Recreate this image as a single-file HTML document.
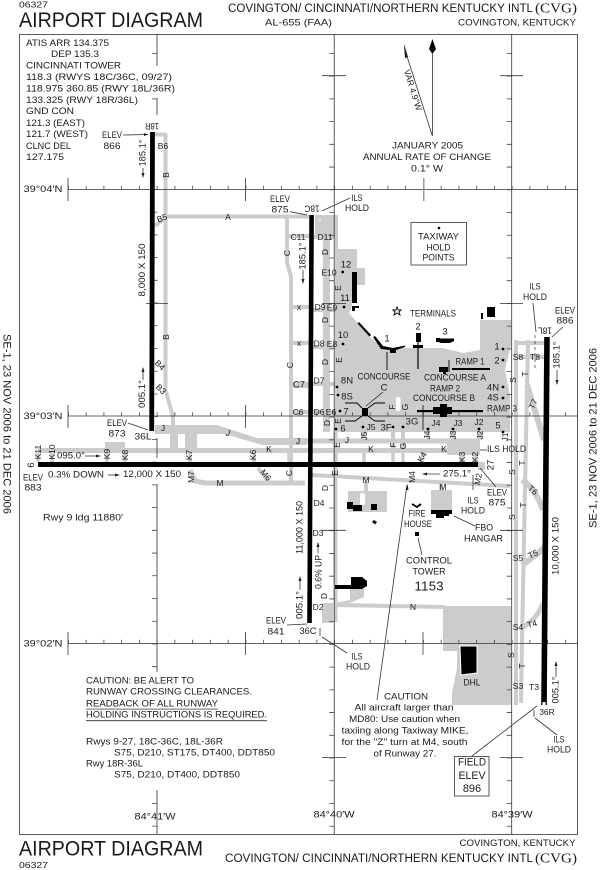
<!DOCTYPE html>
<html><head><meta charset="utf-8"><style>
html,body{margin:0;padding:0;background:#fff;width:600px;height:870px;overflow:hidden}
svg{display:block}
text{font-family:"Liberation Sans",sans-serif;font-size:9.5px;fill:#1a1a1a;text-anchor:middle;dominant-baseline:central}
.s{font-size:8.5px}
.l{text-anchor:start}
.big{font-size:21px}
.g{fill:none;stroke:#ccc;stroke-linejoin:round;stroke-linecap:butt}
.k{fill:none;stroke:#333;stroke-width:.8}
.b{fill:none;stroke:#000}
.serif{font-family:"Liberation Serif",serif}
</style></head><body>
<svg width="600" height="870" viewBox="0 0 600 870" xmlns="http://www.w3.org/2000/svg">
<!-- apron -->
<g fill="#ccc">
<path d="M315 215H338V249H357V268H365V285H352V306L349 313L370 337L383 348H443L463 353L480 350V320H511V345L505 370L510 395V432H335V235H315Z"/>
<path d="M443 606H511V705H452V693L457 668V651H443Z"/>
<path d="M322 603H333V623H322Z"/>
<path d="M335 603L350 600V589H364V597L350 603Z"/>
<path d="M348 491H387V512H348Z"/>
<path d="M431 490H452V510H431Z"/>
<path d="M155 425H217L257 438H307V445H262L225 434L197 434V450H185V434H178V450H170V434H155Z"/>
<path d="M105 442H125V450H105Z"/>
<path d="M447 443H480V455H447Z"/>
<path d="M478 462H485V470H478Z"/>
</g>
<rect x="360" y="493" width="5" height="12" rx="2" fill="#fff"/>
<g class="g" stroke-width="4">
<path d="M155 134.5H165.5V390L173 417V432"/>
<path d="M165 216.5H309"/>
<path d="M155 226L165 218"/>
<path d="M287 217V262L291 277V482"/>
<path d="M287 236H309M291 307H309M291 343H309M291 412H309"/>
<path d="M291 385H309" stroke-width="6"/>
<path d="M326.5 216V432" stroke-width="7"/>
<path d="M309 237H335M309 310H335M309 347H335M309 384H335M309 412H335"/>
<path d="M38 450.5H480" stroke-width="5"/>
<path d="M257 441H480" stroke-width="5"/>
<path d="M190 470L195 481L205 483H305" stroke-width="5"/>
<path d="M258 468L268 481" stroke-width="4"/>
<path d="M312 475L510 486"/>
<path d="M335.5 432V622"/>
<path d="M336 605L445 607"/>
<path d="M366 482V492M441 484V492" stroke-width="4"/>
<path d="M516 340V705"/>
<path d="M528 340L522 640L521 703"/>
<path d="M514 343H546M514 357H546"/>
<path d="M527 385L544 440" stroke-width="6"/>
<path d="M522 480Q535 488 543 510" stroke-width="6"/>
<path d="M522 565Q535 556 544 548" stroke-width="6"/>
<path d="M522 628Q538 618 543 603" stroke-width="5"/>
<path d="M38 453V462M52 453V462M107 453V462M125 453V462M190 453V462M254 453V462M289 453V462M336 453V462M364 453V462M393 453V462M403 453V462M422 453V462M462 453V462M475 453V462" stroke-width="3.5"/>
<path d="M364 430V440M393 430V450M403 430V450M428 430V440M453 430V440M480 430V440" stroke-width="4"/>
</g>
<rect x="396" y="397" width="4.5" height="14" rx="2" fill="#fff"/>
<!-- frame -->
<g class="k">
<rect x="19.5" y="34.5" width="558" height="800"/>
<path d="M334.2 34V834M511.7 34V834"/>
<path d="M157 34V66M157 98V115M157 438V458M157 484V672M157 790V834"/>
<path d="M68 189.5H578M68 416H578M68 643.5H578"/>
<path d="M68 178V201M245.5 178V201M68 405V428M245.5 405V428M68 632V655M245.5 632V655"/>
<path d="M423 632V655" stroke="#666" stroke-width="1"/>
<path d="M423 405V430" stroke-width="1"/>
<path d="M146 303.5H168"/>
<path d="M322 75.7H346M322 303.5H346M322 530.3H346M322 757.6H346"/>
<path d="M500 75.7H523M500 303.5H523M500 530.3H523M500 757.6H523"/>
<path d="M68 187.5H578M68 414H578M68 641.5H578" stroke-width="3.5" stroke-dasharray=".8 16.95" stroke="#444"/>
<path d="M331.7 53V834M509.2 53V834" stroke-width="5" stroke-dasharray=".8 21.93" stroke="#444"/>
<path d="M154.5 53V66M154.5 98.5V100" stroke-width="5" stroke-dasharray=".8 21.93" stroke="#444"/>
<path d="M156 189V432" stroke-width="3" stroke-dasharray=".8 21.93" stroke="#444"/>
<path d="M154.5 439V672M154.5 803V834" stroke-width="5" stroke-dasharray=".8 21.93" stroke="#444"/>
</g>
<rect x="423" y="178" width="1.5" height="23" fill="#999"/>
<!-- runways -->
<g class="b">
<path d="M152.5 132L151.7 431" stroke-width="4.8"/>
<path d="M311.6 215L309.5 623" stroke-width="4.6"/>
<path d="M547 337L544 705" stroke-width="5.6"/>
</g>
<rect x="38" y="462" width="440" height="5" fill="#000"/>
<rect x="542.5" y="702" width="3" height="3" fill="#fff"/>
<!-- buildings -->
<g fill="#000">
<rect x="352" y="272" width="5" height="31"/><path d="M352 306H359V308H355V311H352Z"/>
<path d="M357.5 323.5L359 322L371 335L369.5 336.5Z"/>
<path d="M373 337L375 336L383 346L393 348L405 345.5V347L396 350V353H390V350L381 349Z"/>
<rect x="416" y="333" width="5" height="9"/><rect x="413" y="345" width="10" height="3"/>
<rect x="436" y="338" width="4" height="4"/>
<path d="M436 338.5H454V341L450 343H441L436 341Z"/>
<rect x="487" y="307" width="8" height="10"/><rect x="481" y="313" width="2" height="6"/>
<rect x="452" y="368" width="38" height="2"/><rect x="439" y="367" width="9" height="5"/><rect x="443" y="372" width="3" height="2"/>
<rect x="417" y="410" width="66" height="2.2"/><rect x="433" y="407" width="19" height="7"/><rect x="440" y="404" width="7" height="13"/>
<rect x="362" y="408" width="6" height="8"/>
<rect x="347" y="502" width="6" height="7"/><rect x="353" y="505" width="9" height="6"/><rect x="371" y="504" width="6" height="6"/>
<path d="M374 520L377 522L375 524.5L372 522Z"/>
<path d="M335 585H351V577H362L367 581V586L362 589H335Z"/>
<rect x="431" y="510" width="21" height="4"/><rect x="436" y="514" width="8" height="4"/><rect x="444" y="514" width="5" height="2"/>
<rect x="415" y="532" width="4" height="4"/>
<path d="M460 646H477V673L461 675Z" stroke="#fff" stroke-width="1"/>
<path d="M432.4 39L436 49L432.4 54L429 49Z"/>
<path d="M404 44L408 57L405 58Z"/>
</g>
<g class="b" stroke-width=".9">
<path d="M387 352V370"/><path d="M418 342V369" stroke-width="1.2"/><path d="M449 360V372"/>
<path d="M345 403H357L362 408M385 403H375L368 408M345 421H355L362 416M385 421H375L368 416"/>
<path d="M412 504L417 507L421 504" stroke-width="1.8"/>
</g>
<!-- leaders -->
<g class="k">
<path d="M432.4 54V136L405 50"/>
<path d="M123 135L148 134.5"/><path d="M143 168V177"/><path d="M143 368V380"/>
<path d="M290 211.7L307 215"/><path d="M350 198L322 211"/><path d="M303 270V283"/>
<path d="M383 392L366 406"/>
<path d="M128 423L148 430"/><path d="M85 456H100"/><path d="M108 475H119"/>
<path d="M423 474H440"/><path d="M496 487L480 468"/><path d="M473 475V490"/>
<path d="M480 450H487"/><path d="M418 538L422 555"/><path d="M454 516L475 526"/>
<path d="M407 485L377 700"/>
<path d="M287 625L307 624"/><path d="M322 637L347 653"/><path d="M320 628V636"/>
<path d="M318 543V553M300 577V590"/>
<path d="M533 303L536 332"/><path d="M563 327L552 337"/><path d="M557 370V384"/>
<path d="M556 662V677"/><path d="M557 735L535 718"/><path d="M534 710V717"/>
<path d="M472 756L537 706"/>
<rect x="411" y="222.5" width="55.5" height="42.5"/>
<rect x="454.5" y="756.5" width="34.5" height="39.5"/>
</g>
<path d="M320 212V226M532 692V700" stroke="#fff" stroke-width="1" stroke-dasharray="3 4"/>
<path d="M535 335V369" stroke="#333" stroke-width=".7" stroke-dasharray="3 3"/>
<g fill="#222">
<path d="M148 134.5L144 133V136Z"/><path d="M143 178L141.5 173H144.5Z"/><path d="M143 367L141.5 372H144.5Z"/>
<path d="M101 456L96 454.5V457.5Z"/><path d="M120 475L115 473.5V476.5Z"/><path d="M422 474L427 472.5V475.5Z"/>
<path d="M303 284L301.5 279H304.5Z"/><path d="M318 542L316.5 547H319.5Z"/><path d="M300 576L298.5 581H301.5Z"/>
<path d="M557 385L555.5 380H558.5Z"/><path d="M556 661L554.5 666H557.5Z"/>
<path d="M407.5 484L405.5 490H408.5Z"/>
</g>
<!-- stars -->
<g fill="#000">
<circle cx="439" cy="228" r="1.3"/><circle cx="342.7" cy="272" r="1.4"/><circle cx="344" cy="307" r="1.4"/><circle cx="343" cy="344" r="1.4"/>
<circle cx="337" cy="387" r="1.4"/><circle cx="338" cy="395" r="1.4"/><circle cx="340" cy="411" r="1.4"/><circle cx="336" cy="429" r="1.4"/>
<circle cx="363" cy="427" r="1.4"/><circle cx="393" cy="427" r="1.4"/><circle cx="403" cy="427" r="1.4"/>
<circle cx="428" cy="429" r="1.4"/><circle cx="453" cy="429" r="1.4"/><circle cx="479" cy="429" r="1.4"/>
<circle cx="503" cy="349" r="1.4"/><circle cx="503" cy="360" r="1.4"/><circle cx="503" cy="387" r="1.4"/><circle cx="503" cy="398" r="1.4"/><circle cx="503" cy="432" r="1.4"/>
</g>
<path d="M397 307L398.2 310H401L399 312L400 315L397 313L394 315L395 312L393 310H395.8Z" fill="#fff" stroke="#000" stroke-width=".9"/>
<!-- header / footer -->
<text x="33.5" y="4.5" class="s" textLength="29" lengthAdjust="spacingAndGlyphs">06327</text>
<text x="19" y="20.5" class="big l" textLength="184" lengthAdjust="spacingAndGlyphs">AIRPORT DIAGRAM</text>
<text x="228" y="9" class="l" style="font-size:11.5px" textLength="305" lengthAdjust="spacingAndGlyphs">COVINGTON/ CINCINNATI/NORTHERN KENTUCKY INTL</text>
<text x="556" y="9" class="serif" style="font-size:14px" textLength="42" lengthAdjust="spacingAndGlyphs">(CVG)</text>
<text x="298.5" y="23" textLength="67" lengthAdjust="spacingAndGlyphs">AL-655 (FAA)</text>
<text x="517" y="23" textLength="118" lengthAdjust="spacingAndGlyphs">COVINGTON, KENTUCKY</text>
<text x="517.5" y="843.5" textLength="116" lengthAdjust="spacingAndGlyphs">COVINGTON, KENTUCKY</text>
<text x="225" y="859" class="l" style="font-size:11.5px" textLength="308" lengthAdjust="spacingAndGlyphs">COVINGTON/ CINCINNATI/NORTHERN KENTUCKY INTL</text>
<text x="556" y="859" class="serif" style="font-size:14px" textLength="42" lengthAdjust="spacingAndGlyphs">(CVG)</text>
<text x="19" y="849" class="big l" textLength="184" lengthAdjust="spacingAndGlyphs">AIRPORT DIAGRAM</text>
<text x="33.5" y="865" class="s" textLength="29" lengthAdjust="spacingAndGlyphs">06327</text>
<text transform="translate(6.5 424) rotate(90)" style="font-size:11px" textLength="180" lengthAdjust="spacingAndGlyphs">SE-1, 23 NOV 2006 to 21 DEC 2006</text>
<text transform="translate(593.5 438) rotate(-90)" style="font-size:11px" textLength="180" lengthAdjust="spacingAndGlyphs">SE-1, 23 NOV 2006 to 21 DEC 2006</text>
<!-- freq -->
<g>
<text x="26" y="43.3" class="l" textLength="83" lengthAdjust="spacingAndGlyphs">ATIS ARR 134.375</text>
<text x="51" y="54.7" class="l" textLength="48" lengthAdjust="spacingAndGlyphs">DEP 135.3</text>
<text x="26" y="66" class="l" textLength="95" lengthAdjust="spacingAndGlyphs">CINCINNATI TOWER</text>
<text x="26" y="77.3" class="l" textLength="146" lengthAdjust="spacingAndGlyphs">118.3 (RWYS 18C/36C, 09/27)</text>
<text x="26" y="89" class="l" textLength="149" lengthAdjust="spacingAndGlyphs">118.975 360.85 (RWY 18L/36R)</text>
<text x="26" y="100.3" class="l" textLength="112" lengthAdjust="spacingAndGlyphs">133.325 (RWY 18R/36L)</text>
<text x="26" y="111.7" class="l" textLength="48" lengthAdjust="spacingAndGlyphs">GND CON</text>
<text x="26" y="123.3" class="l" textLength="59" lengthAdjust="spacingAndGlyphs">121.3 (EAST)</text>
<text x="26" y="134.7" class="l" textLength="62" lengthAdjust="spacingAndGlyphs">121.7 (WEST)</text>
<text x="26" y="146.3" class="l" textLength="45" lengthAdjust="spacingAndGlyphs">CLNC DEL</text>
<text x="26" y="157.7" class="l" textLength="38" lengthAdjust="spacingAndGlyphs">127.175</text>
</g>
<!-- magnetic -->
<text transform="translate(413 90) rotate(73)" class="s">VAR 4.9°W</text>
<text x="427.5" y="146" textLength="71" lengthAdjust="spacingAndGlyphs">JANUARY 2005</text>
<text x="427" y="157.5" textLength="128" lengthAdjust="spacingAndGlyphs">ANNUAL RATE OF CHANGE</text>
<text x="427" y="169" textLength="32" lengthAdjust="spacingAndGlyphs">0.1° W</text>
<text x="438.5" y="237" textLength="41" lengthAdjust="spacingAndGlyphs">TAXIWAY</text>
<text x="438.5" y="248" textLength="24" lengthAdjust="spacingAndGlyphs">HOLD</text>
<text x="438.5" y="258" textLength="32" lengthAdjust="spacingAndGlyphs">POINTS</text>
<!-- lat/long -->
<text x="43" y="189.5" textLength="39" lengthAdjust="spacingAndGlyphs">39°04′N</text>
<text x="43" y="416.5" textLength="39" lengthAdjust="spacingAndGlyphs">39°03′N</text>
<text x="43" y="644" textLength="39" lengthAdjust="spacingAndGlyphs">39°02′N</text>
<text x="155" y="817" textLength="41" lengthAdjust="spacingAndGlyphs">84°41′W</text>
<text x="334" y="815" textLength="41" lengthAdjust="spacingAndGlyphs">84°40′W</text>
<text x="512" y="815" textLength="41" lengthAdjust="spacingAndGlyphs">84°39′W</text>
<!-- 18R -->
<text transform="translate(152 125.5) rotate(180)" textLength="14" lengthAdjust="spacingAndGlyphs">18R</text>
<text x="112" y="135.3" textLength="20" lengthAdjust="spacingAndGlyphs">ELEV</text>
<text x="112" y="146.5" textLength="17" lengthAdjust="spacingAndGlyphs">866</text>
<text transform="translate(143 153) rotate(-90)" textLength="27" lengthAdjust="spacingAndGlyphs">185.1°</text>
<text x="163" y="146" class="s">B6</text>
<text transform="translate(166 175) rotate(-90)" class="s">B</text>
<text transform="translate(162 218) rotate(-20)" class="s">B5</text>
<text x="228" y="217" class="s">A</text>
<text transform="translate(142.7 270) rotate(-90)" textLength="53" lengthAdjust="spacingAndGlyphs">8,000 X 150</text>
<text transform="translate(166 337) rotate(-90)" class="s">B</text>
<text transform="translate(160 365) rotate(45)" class="s">B4</text>
<text transform="translate(161 389) rotate(45)" class="s">B3</text>
<text transform="translate(142.7 394) rotate(-90)" textLength="28" lengthAdjust="spacingAndGlyphs">005.1°</text>
<!-- 18C -->
<text x="280" y="199.5" textLength="20" lengthAdjust="spacingAndGlyphs">ELEV</text>
<text x="280" y="210" textLength="17" lengthAdjust="spacingAndGlyphs">875</text>
<text transform="translate(312 208) rotate(180)" textLength="15" lengthAdjust="spacingAndGlyphs">18C</text>
<text x="357" y="198.5" textLength="11" lengthAdjust="spacingAndGlyphs">ILS</text>
<text x="357" y="208.5" textLength="24" lengthAdjust="spacingAndGlyphs">HOLD</text>
<text x="298" y="237" class="s">C11</text><text x="325" y="237" class="s">D11</text>
<text transform="translate(287 253) rotate(-90)" class="s">C</text>
<text transform="translate(325 252) rotate(-90)" class="s">D</text>
<text transform="translate(303 256) rotate(-90)" textLength="27" lengthAdjust="spacingAndGlyphs">185.1°</text>
<text x="346" y="265">12</text><text x="329" y="272.5" class="s">E10</text>
<text transform="translate(338 288) rotate(-90)" class="s">E</text>
<text x="345" y="298.5">11</text>
<text x="320" y="307" class="s">D9</text><text x="332" y="307.5" class="s">E9</text>
<text x="299" y="307" class="s">x</text><text x="299" y="343" class="s">x</text>
<text transform="translate(325 320) rotate(-90)" class="s">D</text>
<text x="343" y="335.5">10</text>
<text x="319" y="343.5" class="s">D8</text><text x="332" y="344" class="s">E8</text>
<text transform="translate(290 365) rotate(-90)" class="s">C</text>
<text transform="translate(325 362) rotate(-90)" class="s">D</text>
<text transform="translate(339 360) rotate(-90)" class="s">E</text>
<text x="319" y="380.5" class="s">D7</text><text x="299" y="385">C7</text>
<text x="347" y="381">8N</text><text x="347" y="397">8S</text>
<text x="298" y="412" class="s">C6</text><text x="319" y="412" class="s">D6</text><text x="331" y="412" class="s">E6</text>
<text x="346" y="412">7</text>
<text x="384" y="377" textLength="53" lengthAdjust="spacingAndGlyphs">CONCOURSE</text>
<text x="384" y="388">C</text>
<text transform="translate(392 407) rotate(-90)" class="s">F</text>
<text transform="translate(405 407) rotate(-90)" class="s">G</text>
<text transform="translate(327 423) rotate(-90)" class="s">D</text>
<text transform="translate(338 421) rotate(-90)" class="s">E</text>
<text x="343" y="429">6</text><text x="371" y="427" class="s">J5</text>
<text x="386" y="428">3F</text><text x="412" y="422">3G</text>
<text x="436" y="423" class="s">J4</text><text x="458" y="423" class="s">J3</text><text x="479" y="422" class="s">J2</text>
<text transform="translate(364 436) rotate(-90)" class="s">J5</text>
<text transform="translate(427 435) rotate(-90)" class="s">J4</text>
<text transform="translate(453 435) rotate(-90)" class="s">J3</text>
<text transform="translate(480 435) rotate(-90)" class="s">J2</text>
<text x="347" y="440" class="s">J</text>
<text transform="translate(337 445) rotate(-90)" class="s">E</text>
<text transform="translate(393 445) rotate(-90)" class="s">F</text>
<text transform="translate(403 446) rotate(-90)" class="s">G</text>
<text x="371" y="449" class="s">K</text><text x="444" y="449" class="s">K</text>
<text transform="translate(422 457) rotate(-60)" class="s">K4</text>
<text transform="translate(462 457) rotate(-90)" class="s">K3</text>
<text transform="translate(475 457) rotate(-90)" class="s">K2</text>
<text x="506.5" y="449.5" textLength="39" lengthAdjust="spacingAndGlyphs">ILS HOLD</text>
<text transform="translate(491 465) rotate(-90)">27</text>
<text transform="translate(335 473) rotate(-90)" class="s">E</text>
<text transform="translate(412 477) rotate(-90)" class="s">M4</text>
<text x="457" y="474" textLength="28" lengthAdjust="spacingAndGlyphs">275.1°</text>
<text transform="translate(478 479) rotate(-80)" class="s">M2</text>
<text x="497" y="493" textLength="20" lengthAdjust="spacingAndGlyphs">ELEV</text>
<text x="497" y="503" textLength="17" lengthAdjust="spacingAndGlyphs">875</text>
<text x="366" y="480" class="s">M</text><text x="443" y="487" class="s">M</text>
<text transform="translate(325 488) rotate(-90)" class="s">D</text>
<text x="319" y="503" class="s">D4</text><text x="318" y="533" class="s">D3</text>
<text transform="translate(300 527.5) rotate(-90)" textLength="53" lengthAdjust="spacingAndGlyphs">11,000 X 150</text>
<text transform="translate(319 572) rotate(-90)" textLength="34" lengthAdjust="spacingAndGlyphs">0.6% UP</text>
<text transform="translate(324 596) rotate(-90)" class="s">D</text>
<text transform="translate(300 605) rotate(-90)" textLength="28" lengthAdjust="spacingAndGlyphs">005.1°</text>
<text x="318" y="607" class="s">D2</text>
<text x="276" y="621" textLength="20" lengthAdjust="spacingAndGlyphs">ELEV</text>
<text x="276" y="632" textLength="17" lengthAdjust="spacingAndGlyphs">841</text>
<text x="308" y="631.7" textLength="17" lengthAdjust="spacingAndGlyphs">36C</text>
<text x="357" y="657" textLength="11" lengthAdjust="spacingAndGlyphs">ILS</text>
<text x="358" y="667" textLength="24" lengthAdjust="spacingAndGlyphs">HOLD</text>
<text x="413" y="607" class="s">N</text>
<text x="417" y="514" textLength="17" lengthAdjust="spacingAndGlyphs">FIRE</text>
<text x="418" y="524.5" textLength="28" lengthAdjust="spacingAndGlyphs">HOUSE</text>
<text x="429" y="561" textLength="46" lengthAdjust="spacingAndGlyphs">CONTROL</text>
<text x="429" y="572" textLength="33" lengthAdjust="spacingAndGlyphs">TOWER</text>
<text x="429" y="586" style="font-size:13px" textLength="29" lengthAdjust="spacing">1153</text>
<text x="473" y="501" textLength="11" lengthAdjust="spacingAndGlyphs">ILS</text>
<text x="473" y="511" textLength="24" lengthAdjust="spacingAndGlyphs">HOLD</text>
<text x="484" y="528" textLength="18" lengthAdjust="spacingAndGlyphs">FBO</text>
<text x="483.5" y="539" textLength="39" lengthAdjust="spacingAndGlyphs">HANGAR</text>
<!-- terminals -->
<text x="433" y="314" textLength="46" lengthAdjust="spacingAndGlyphs">TERMINALS</text>
<text x="387" y="339">1</text><text x="418" y="327">2</text><text x="445" y="332">3</text>
<text x="470" y="362" textLength="29" lengthAdjust="spacingAndGlyphs">RAMP 1</text>
<text x="455" y="378" textLength="62" lengthAdjust="spacingAndGlyphs">CONCOURSE A</text>
<text x="445" y="389" textLength="30" lengthAdjust="spacingAndGlyphs">RAMP 2</text>
<text x="444" y="398.5" textLength="62" lengthAdjust="spacingAndGlyphs">CONCOURSE B</text>
<text x="502" y="409" textLength="30" lengthAdjust="spacingAndGlyphs">RAMP 3</text>
<text x="497" y="347">1</text><text x="497" y="361">2</text>
<text x="493" y="388">4N</text><text x="493" y="398">4S</text><text x="498" y="426">5</text>
<text transform="translate(505 437) rotate(-90)" class="s">J1</text>
<!-- 18L side -->
<text x="535" y="287" textLength="11" lengthAdjust="spacingAndGlyphs">ILS</text>
<text x="535" y="297.5" textLength="24" lengthAdjust="spacingAndGlyphs">HOLD</text>
<text x="565" y="311" textLength="20" lengthAdjust="spacingAndGlyphs">ELEV</text>
<text x="565" y="321" textLength="17" lengthAdjust="spacingAndGlyphs">886</text>
<text transform="translate(545 330) rotate(180)" textLength="14" lengthAdjust="spacingAndGlyphs">18L</text>
<text transform="translate(557 355) rotate(-90)" textLength="27" lengthAdjust="spacingAndGlyphs">185.1°</text>
<text x="518" y="357" class="s">S8</text><text x="535" y="357" class="s">T8</text>
<text transform="translate(513 380) rotate(-90)" class="s">S</text>
<text transform="translate(525 374) rotate(-90)" class="s">T</text>
<text transform="translate(533 404) rotate(-65)" class="s">T7</text>
<text transform="translate(512 472) rotate(-90)" class="s">S</text>
<text transform="translate(522 463) rotate(-90)" class="s">T</text>
<text transform="translate(533 490) rotate(40)" class="s">T6</text>
<text transform="translate(512 517) rotate(-90)" class="s">S</text>
<text transform="translate(523 505) rotate(-90)" class="s">T</text>
<text x="518" y="558" class="s">S5</text>
<text transform="translate(533 554) rotate(-25)" class="s">T5</text>
<text transform="translate(556 546) rotate(-90)" textLength="58" lengthAdjust="spacingAndGlyphs">10,000 X 150</text>
<text x="518" y="627" class="s">S4</text>
<text transform="translate(532 624) rotate(-15)" class="s">T4</text>
<text transform="translate(511 655) rotate(-90)" class="s">S</text>
<text transform="translate(522 666) rotate(-90)" class="s">T</text>
<text x="518" y="686" class="s">S3</text><text x="534" y="687" class="s">T3</text>
<text transform="translate(556 690) rotate(-90)" textLength="27" lengthAdjust="spacingAndGlyphs">005.1°</text>
<text x="547" y="712" class="s">36R</text>
<text x="559" y="740" textLength="11" lengthAdjust="spacingAndGlyphs">ILS</text>
<text x="559" y="750" textLength="24" lengthAdjust="spacingAndGlyphs">HOLD</text>
<text x="472" y="683" textLength="17" lengthAdjust="spacingAndGlyphs">DHL</text>
<text x="406" y="697" textLength="44" lengthAdjust="spacingAndGlyphs">CAUTION</text>
<text x="404" y="708" textLength="99" lengthAdjust="spacingAndGlyphs">All aircraft larger than</text>
<text x="404.5" y="719.5" textLength="111" lengthAdjust="spacingAndGlyphs">MD80: Use caution when</text>
<text x="405" y="731" textLength="127" lengthAdjust="spacingAndGlyphs">taxiing along Taxiway MIKE,</text>
<text x="404.5" y="742.5" textLength="126" lengthAdjust="spacingAndGlyphs">for the "Z" turn at M4, south</text>
<text x="405" y="754" textLength="63" lengthAdjust="spacingAndGlyphs">of Runway 27.</text>
<text x="472" y="762.7" style="font-size:11px" textLength="28" lengthAdjust="spacingAndGlyphs">FIELD</text>
<text x="472" y="776" style="font-size:11px" textLength="27" lengthAdjust="spacingAndGlyphs">ELEV</text>
<text x="472" y="789" style="font-size:11px">896</text>
<!-- 9-27 -->
<text x="117" y="423.5" textLength="20" lengthAdjust="spacingAndGlyphs">ELEV</text>
<text x="117" y="434" textLength="17" lengthAdjust="spacingAndGlyphs">873</text>
<text x="143" y="437" textLength="17" lengthAdjust="spacingAndGlyphs">36L</text>
<text x="163" y="428" class="s">J</text><text transform="translate(228 433) rotate(20)" class="s">J</text>
<text x="269" y="449" class="s">K</text><text x="298" y="441" class="s">J</text>
<text transform="translate(38 452) rotate(-90)" class="s">K11</text>
<text transform="translate(52 452) rotate(-90)" class="s">K10</text>
<text transform="translate(107 454) rotate(-90)" class="s">K9</text>
<text transform="translate(125 455) rotate(-90)" class="s">K8</text>
<text transform="translate(189 455) rotate(-90)" class="s">K7</text>
<text transform="translate(253 455) rotate(-90)" class="s">K6</text>
<text x="71" y="456" textLength="28" lengthAdjust="spacingAndGlyphs">095.0°</text>
<text transform="translate(30 465) rotate(90)">9</text>
<text x="33" y="478" textLength="20" lengthAdjust="spacingAndGlyphs">ELEV</text>
<text x="33" y="488" textLength="17" lengthAdjust="spacingAndGlyphs">883</text>
<text x="76" y="475" textLength="56" lengthAdjust="spacingAndGlyphs">0.3% DOWN</text>
<text x="152" y="474.5" textLength="58" lengthAdjust="spacingAndGlyphs">12,000 X 150</text>
<text transform="translate(191 477) rotate(-90)" class="s">M7</text>
<text transform="translate(266 475) rotate(50)" class="s">M6</text>
<text transform="translate(289 473) rotate(-90)" class="s">C</text>
<text x="220" y="483" class="s">M</text>
<text x="83" y="518" textLength="80" lengthAdjust="spacingAndGlyphs">Rwy 9 ldg 11880′</text>
<!-- caution -->
<text x="86" y="681" class="l" textLength="108" lengthAdjust="spacingAndGlyphs">CAUTION: BE ALERT TO</text>
<text x="86" y="692" class="l" textLength="166" lengthAdjust="spacingAndGlyphs">RUNWAY CROSSING CLEARANCES.</text>
<text x="86" y="704" class="l" textLength="132" lengthAdjust="spacingAndGlyphs">READBACK OF ALL RUNWAY</text>
<text x="86" y="715" class="l" textLength="181" lengthAdjust="spacingAndGlyphs">HOLDING INSTRUCTIONS IS REQUIRED.</text>
<rect x="86" y="708.7" width="132" height=".8" fill="#444"/>
<rect x="86" y="720" width="181" height="1.2" fill="#666"/>
<text x="86" y="742" class="l" textLength="137" lengthAdjust="spacingAndGlyphs">Rwys 9-27, 18C-36C, 18L-36R</text>
<text x="114" y="753" class="l" textLength="161" lengthAdjust="spacingAndGlyphs">S75, D210, ST175, DT400, DDT850</text>
<text x="86" y="764" class="l" textLength="57" lengthAdjust="spacingAndGlyphs">Rwy 18R-36L</text>
<text x="114" y="775" class="l" textLength="126" lengthAdjust="spacingAndGlyphs">S75, D210, DT400, DDT850</text>
</svg>
</body></html>
